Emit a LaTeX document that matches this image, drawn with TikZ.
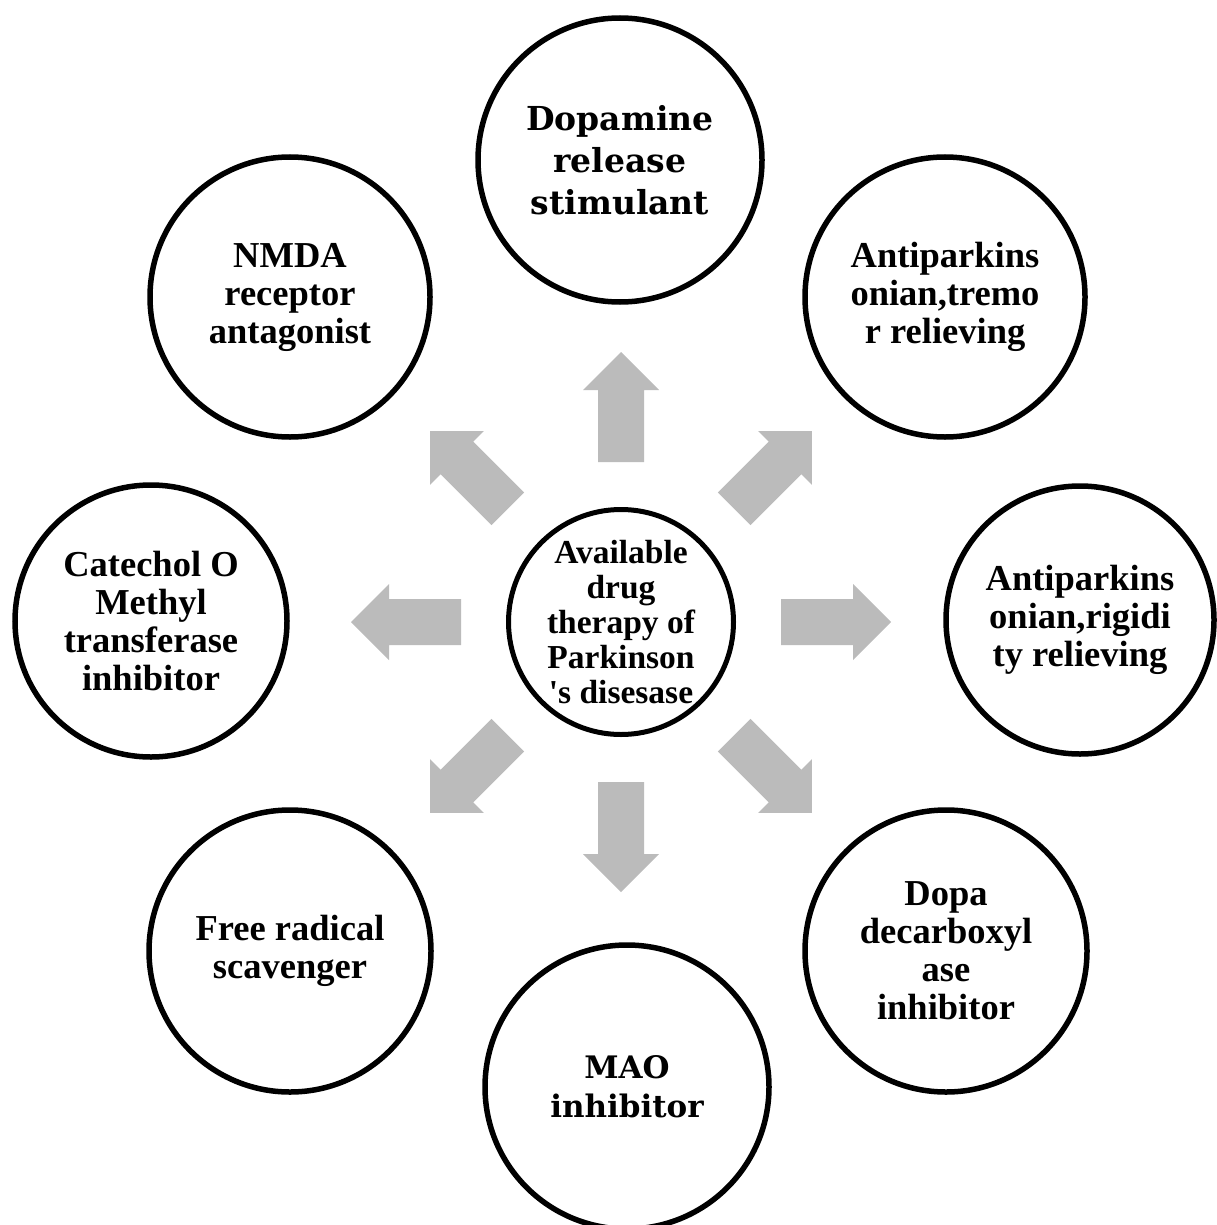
\documentclass[tikz,border=0pt]{standalone}
\usepackage{fontspec}
\setmainfont{Liberation Serif}
\newfontfamily\plainserif{Liberation Serif}
\newfontfamily\slabserif{DejaVu Serif}
\definecolor{arrowgray}{RGB}{187,187,187}
\begin{document}
\begin{tikzpicture}[x=1pt,y=-1pt,
  bubble/.style={circle, draw=black, line width=5.5pt, align=center, inner sep=0pt,
    font=\bfseries\fontsize{36.5}{38}\selectfont},
  slabbubble/.style={bubble, font=\slabserif\bfseries\fontsize{31}{39}\selectfont},
  bigslabbubble/.style={bubble, font=\slabserif\bfseries\fontsize{33}{42}\selectfont},
  hubbubble/.style={bubble, line width=5pt, font=\bfseries\fontsize{33.5}{35}\selectfont},
  blockarrow/.style={fill=arrowgray}]
\useasboundingbox (0,0) rectangle (1216,1225);

\node[hubbubble, minimum size=225] (hub) at (621,622)
  {Available\\drug\\therapy of\\Parkinson\\{\plainserif\bfseries '}s disesase};

\node[bigslabbubble, minimum size=284] (top) at (620,160) {Dopamine\\release\\stimulant};
\node[bubble, minimum size=280] (tr) at (945,297) {Antiparkins\\onian,tremo\\r relieving};
\node[bubble, minimum size=268] (rt) at (1080,620) {Antiparkins\\onian,rigidi\\ty relieving};
\node[bubble, minimum size=282] (br) at (946,951) {Dopa\\decarboxyl\\ase\\inhibitor};
\node[slabbubble, minimum size=284] (bot) at (627,1087) {MAO\\inhibitor};
\node[bubble, minimum size=282] (bl) at (290,951) {Free radical\\scavenger};
\node[bubble, minimum size=272] (lt) at (151,621) {Catechol O\\Methyl\\transferase\\inhibitor};
\node[bubble, minimum size=280] (tl) at (290,297) {NMDA\\receptor\\antagonist};

\foreach \a in {0,45,...,315}{
  \fill[blockarrow, shift={(hub.center)}, rotate=\a]
    (160,-23) -- (232,-23) -- (232,-38) -- (270,0) -- (232,38) -- (232,23) -- (160,23) -- cycle;
}
\end{tikzpicture}
\end{document}
